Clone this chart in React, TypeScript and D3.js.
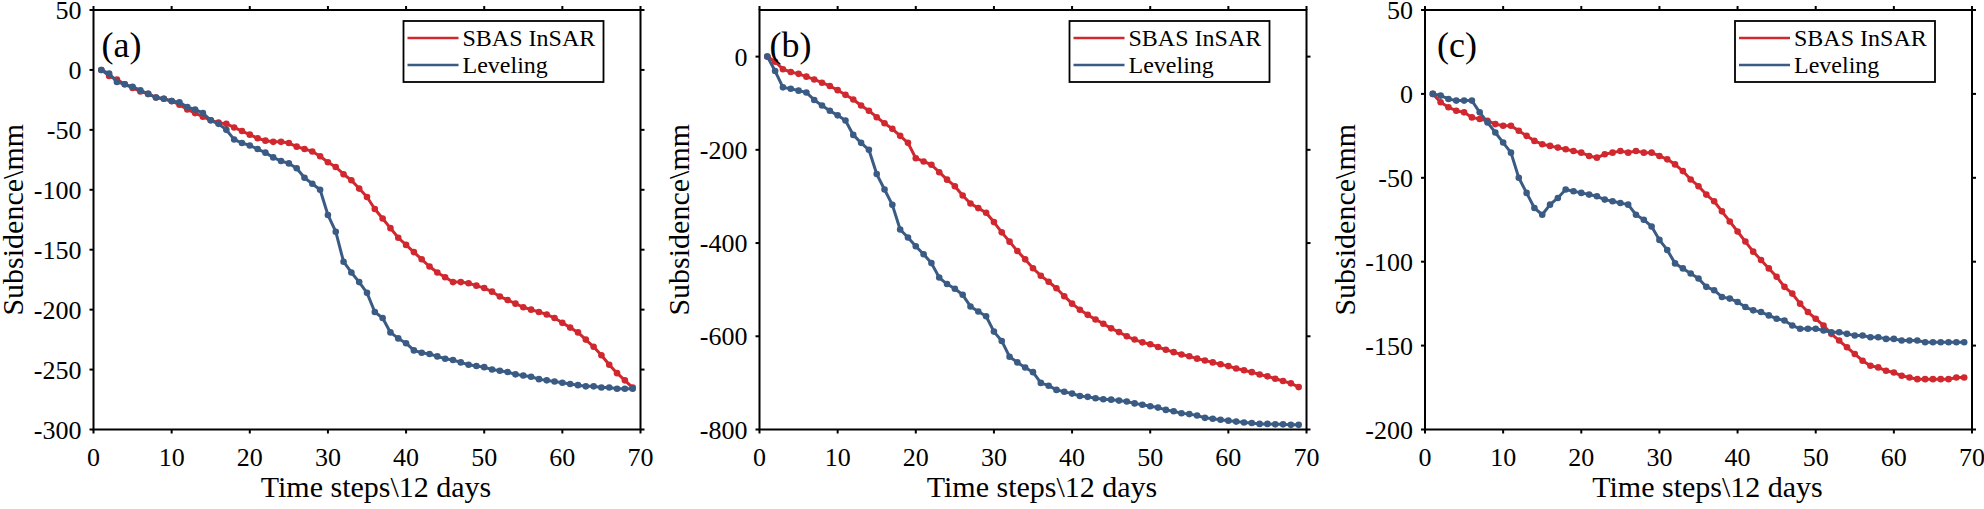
import React from "react";
import * as d3 from "d3";

// ---- Data ----
const timeSteps = [
  1, 2, 3, 4, 5, 6, 7, 8, 9, 10, 11, 12, 13, 14, 15, 16, 17, 18, 19, 20, 21, 22, 23,
  24, 25, 26, 27, 28, 29, 30, 31, 32, 33, 34, 35, 36, 37, 38, 39, 40, 41, 42, 43, 44, 45, 46,
  47, 48, 49, 50, 51, 52, 53, 54, 55, 56, 57, 58, 59, 60, 61, 62, 63, 64, 65, 66, 67, 68, 69,
];

const sbasA = [
  0, -5, -8, -12, -15, -18, -20, -23, -24, -26, -29, -33, -36, -39, -42, -44, -45, -48, -51, -54,
  -57, -59, -60, -60, -61, -64, -66, -68, -72, -77, -81, -87, -92, -99, -106, -116, -124, -132,
  -140, -146, -152, -158, -164, -169, -173, -177, -177, -178, -180, -182, -185, -189, -192, -195,
  -198, -200, -202, -204, -207, -211, -215, -219, -225, -231, -238, -246, -253, -259, -265,
];
const levelingA = [
  0, -3, -10, -12, -14, -17, -20, -23, -24, -26, -27, -31, -33, -36, -42, -45, -50, -58, -61, -63,
  -66, -69, -73, -76, -78, -82, -90, -95, -100, -121, -135, -160, -169, -177, -186, -202, -207,
  -219, -224, -228, -234, -236, -237, -239, -241, -242, -244, -246, -247, -248, -250, -251, -252,
  -254, -255, -256, -258, -259, -260, -261, -262, -263, -264, -264, -265, -265, -266, -266, -266,
];

const sbasB = [
  0, -11, -27, -33, -37, -43, -49, -56, -63, -72, -82, -92, -105, -116, -130, -143, -155, -170,
  -185, -218, -225, -232, -248, -264, -278, -298, -315, -325, -335, -355, -377, -397, -417, -435,
  -454, -470, -483, -497, -514, -530, -543, -554, -564, -573, -583, -591, -600, -607, -613, -617,
  -623, -629, -634, -639, -643, -648, -652, -656, -660, -664, -669, -673, -677, -682, -686, -691,
  -696, -701, -709,
];
const levelingB = [
  0, -31, -66, -69, -73, -77, -93, -105, -116, -126, -137, -168, -185, -200, -252, -285, -318,
  -371, -388, -407, -424, -443, -474, -488, -498, -511, -536, -547, -557, -590, -610, -644, -656,
  -667, -677, -700, -706, -715, -719, -723, -728, -730, -733, -735, -736, -738, -740, -744, -747,
  -750, -753, -758, -761, -765, -767, -770, -775, -777, -779, -781, -783, -785, -786, -788, -788,
  -789, -789, -790, -790,
];

const sbasC = [
  0, -5, -8, -10, -11, -14, -15, -16, -18, -19, -19, -22, -25, -28, -30, -31, -32, -33, -34, -35,
  -37, -38, -36, -35, -34, -35, -34, -35, -35, -37, -39, -42, -46, -51, -55, -60, -64, -70, -76,
  -82, -88, -94, -99, -104, -109, -115, -119, -125, -130, -134, -138, -143, -147, -151, -155,
  -159, -162, -163, -165, -166, -168, -169, -170, -170, -170, -170, -170, -169, -169,
];
const levelingC = [
  0, -1, -3, -4, -4, -4, -11, -17, -23, -29, -35, -50, -59, -68, -72, -66, -62, -57, -58, -59,
  -60, -61, -63, -64, -65, -66, -72, -75, -79, -87, -93, -101, -104, -107, -110, -115, -117, -121,
  -122, -124, -127, -129, -130, -132, -134, -135, -138, -140, -140, -140, -141, -142, -142, -143,
  -144, -144, -145, -145, -146, -146, -147, -147, -147, -148, -148, -148, -148, -148, -148,
];

const panelLabels = ["(a)", "(b)", "(c)"];
const seriesNames = ["SBAS InSAR", "Leveling"];
const xTicks = [0, 10, 20, 30, 40, 50, 60, 70];
const yDomains: [number, number][] = [
  [-300, 50],
  [-800, 100],
  [-200, 50],
];
const yTicksA = [-300, -250, -200, -150, -100, -50, 0, 50];
const yTicksB = [-800, -600, -400, -200, 0];
const yTicksC = [-200, -150, -100, -50, 0, 50];

const xLabel = "Time steps\\12 days";
const yLabel = "Subsidence\\mm";

// ---- Style / layout ----
const W = 1984;
const H = 509;
const RED = "#d0282e";
const BLUE = "#3a5b84";
const FONT = "'Liberation Serif', 'Times New Roman', serif";
const TOP = 10;
const BOTTOM = 429.5;
const panelLefts = [93.5, 759.5, 1425];
const PANEL_W = 547;
const labelOffsets = [8, 10, 12];

type PanelProps = {
  idx: number;
  sbas: number[];
  leveling: number[];
  yTicks: number[];
};

function Panel({ idx, sbas, leveling, yTicks }: PanelProps) {
  const left = panelLefts[idx];
  const right = left + PANEL_W;
  const x = d3.scaleLinear().domain([0, 70]).range([left, right]);
  const y = d3.scaleLinear().domain(yDomains[idx]).range([BOTTOM, TOP]);
  const line = d3
    .line<number>()
    .x((_, i) => x(timeSteps[i]))
    .y((d) => y(d));
  const tl = 4;
  const series = [
    { vals: sbas, color: RED },
    { vals: leveling, color: BLUE },
  ];
  const legW = 200;
  const legH = 61;
  const legX = right - 37 - legW;
  const legY = 21;
  return (
    <g>
      {/* series */}
      {series.map((s, si) => (
        <g key={si}>
          <path d={line(s.vals) || ""} fill="none" stroke={s.color} strokeWidth={3} strokeLinejoin="round" />
          {s.vals.map((v, i) => (
            <circle key={i} cx={x(timeSteps[i])} cy={y(v)} r={3.3} fill={s.color} />
          ))}
        </g>
      ))}
      {/* box */}
      <rect x={left} y={TOP} width={PANEL_W} height={BOTTOM - TOP} fill="none" stroke="#000" strokeWidth={2} />
      {/* x ticks */}
      {xTicks.map((t) => (
        <g key={"x" + t}>
          <line x1={x(t)} x2={x(t)} y1={BOTTOM} y2={BOTTOM + tl} stroke="#000" strokeWidth={2} />
          <line x1={x(t)} x2={x(t)} y1={TOP} y2={TOP - tl} stroke="#000" strokeWidth={2} />
          <text x={x(t)} y={466} textAnchor="middle" fontFamily={FONT} fontSize={26} fill="#000">
            {t}
          </text>
        </g>
      ))}
      {/* y ticks */}
      {yTicks.map((t) => (
        <g key={"y" + t}>
          <line x1={left} x2={left - tl} y1={y(t)} y2={y(t)} stroke="#000" strokeWidth={2} />
          <line x1={right} x2={right + tl} y1={y(t)} y2={y(t)} stroke="#000" strokeWidth={2} />
          <text x={left - 12} y={y(t) + 9} textAnchor="end" fontFamily={FONT} fontSize={26} fill="#000">
            {t}
          </text>
        </g>
      ))}
      {/* axis titles */}
      <text x={(left + right) / 2 + 9} y={497} textAnchor="middle" fontFamily={FONT} fontSize={30} fill="#000">
        {xLabel}
      </text>
      <text
        transform={`translate(${left - 70.5},${(TOP + BOTTOM) / 2}) rotate(-90)`}
        textAnchor="middle"
        fontFamily={FONT}
        fontSize={30}
        fill="#000"
      >
        {yLabel}
      </text>
      {/* panel label */}
      <text x={left + labelOffsets[idx]} y={56.5} fontFamily={FONT} fontSize={36} fill="#000">
        {panelLabels[idx]}
      </text>
      {/* legend */}
      <rect x={legX} y={legY} width={legW} height={legH} fill="#fff" stroke="#000" strokeWidth={1.8} />
      {seriesNames.map((n, i) => (
        <g key={n}>
          <line
            x1={legX + 4}
            x2={legX + 55}
            y1={legY + 17 + i * 27}
            y2={legY + 17 + i * 27}
            stroke={i === 0 ? RED : BLUE}
            strokeWidth={2.6}
          />
          <text x={legX + 59} y={legY + 25 + i * 27} fontFamily={FONT} fontSize={24} fill="#000">
            {n}
          </text>
        </g>
      ))}
    </g>
  );
}

export default function App() {
  return (
    <div style={{ position: "absolute", left: 0, top: 0 }}>
      <svg width={W} height={H} style={{ display: "block", background: "#fff" }}>
        <rect x={0} y={0} width={W} height={H} fill="#fff" />
        <Panel idx={0} sbas={sbasA} leveling={levelingA} yTicks={yTicksA} />
        <Panel idx={1} sbas={sbasB} leveling={levelingB} yTicks={yTicksB} />
        <Panel idx={2} sbas={sbasC} leveling={levelingC} yTicks={yTicksC} />
      </svg>
    </div>
  );
}
